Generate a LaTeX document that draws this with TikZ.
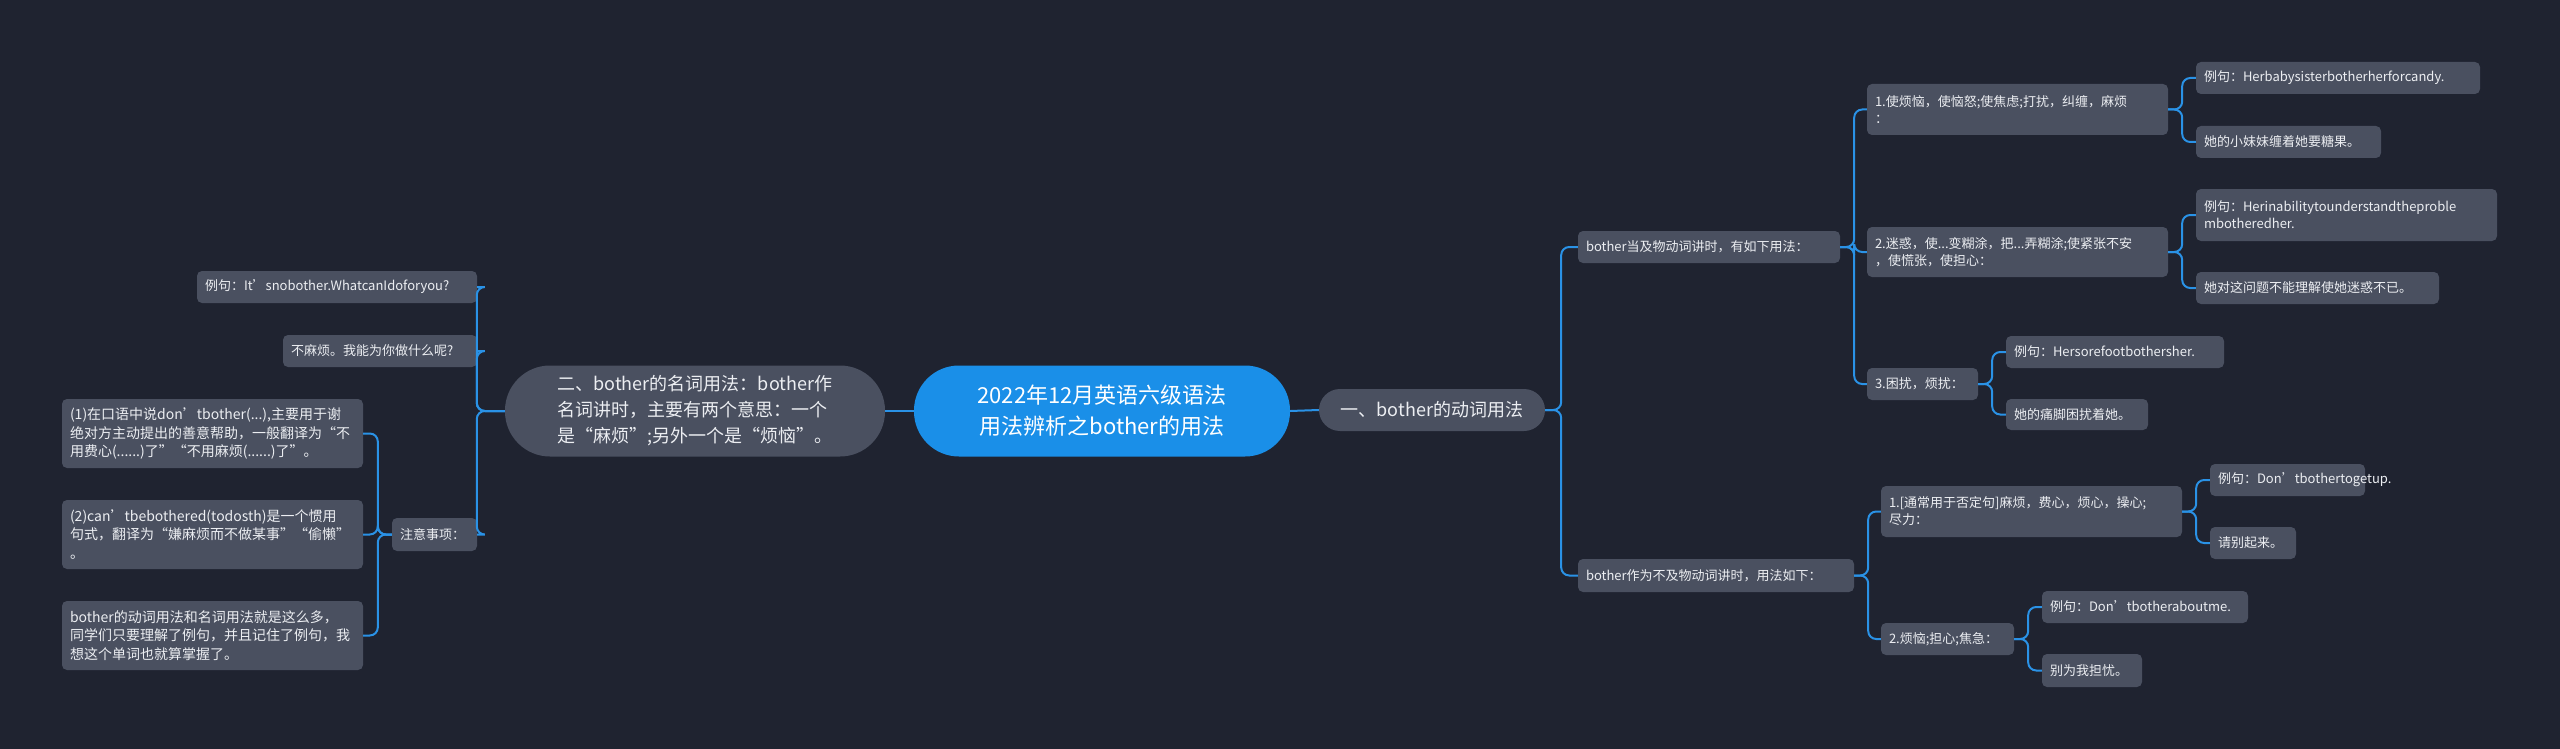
\documentclass[tikz,border=0pt]{standalone}
\usepackage{fontspec}
\setmainfont{Noto Sans CJK SC}
\definecolor{bg}{HTML}{1F2330}
\definecolor{bx}{HTML}{4A5060}
\definecolor{ln}{HTML}{2A92E6}
\definecolor{cb}{HTML}{1A8FE8}
\definecolor{tx}{HTML}{ECEEF2}
\tikzset{
  leaf/.style={fill=bx, rounded corners=5pt, text=tx, inner sep=0pt, align=left, font=\fontsize{13}{17}\selectfont},
  note/.style={leaf, font=\fontsize{14}{18.5}\selectfont},
  edge/.style={draw=ln, line width=2pt, rounded corners=8pt},
}
\newcommand{\bx}[7][leaf]{\node[#1, minimum width=#5pt, minimum height=#6pt, text width={#5pt-16pt}] (#2) at ({#3+#5/2},{#4+#6/2}) {#7};}
\begin{document}
\begin{tikzpicture}[x=1pt,y=-1pt]
\fill[bg] (0,0) rectangle (2560,749);
\useasboundingbox (0,0) rectangle (2560,749);
% main nodes
\node[fill=cb, rounded corners=45pt, minimum width=376pt, minimum height=91pt, text=white, align=center, font=\fontsize{22}{31}\selectfont] (c) at (1102,411) {2022年12月英语六级语法\\用法辨析之bother的用法};
\node[fill=bx, rounded corners=21pt, minimum width=226pt, minimum height=42pt, text=tx, font=\fontsize{18}{24}\selectfont] (r) at (1432,410) {一、bother的动词用法};
\node[fill=bx, rounded corners=45pt, minimum width=380pt, minimum height=91pt, text=tx, align=left, font=\fontsize{18}{26}\selectfont] (l) at (695,411) {二、bother的名词用法：bother作\\名词讲时，主要有两个意思：一个\\是“麻烦”;另外一个是“烦恼”。};
% right
\bx{ra}{1578}{231}{262}{32}{bother当及物动词讲时，有如下用法：}
\bx{rb}{1578}{559}{276}{33}{bother作为不及物动词讲时，用法如下：}
\bx{ra1}{1867}{84}{301}{51}{1.使烦恼，使恼怒;使焦虑;打扰，纠缠，麻烦\\：}
\bx{ra2}{1867}{227}{301}{50}{2.迷惑，使...变糊涂，把...弄糊涂;使紧张不安\\，使慌张，使担心：}
\bx{ra3}{1867}{368}{111}{32}{3.困扰，烦扰：}
\bx{ra1a}{2196}{62}{284}{32}{例句：Herbabysisterbotherherforcandy.}
\bx{ra1b}{2196}{126}{185}{32}{她的小妹妹缠着她要糖果。}
\bx{ra2a}{2196}{189}{301}{52}{例句：Herinabilitytounderstandtheproble\\mbotheredher.}
\bx{ra2b}{2196}{272}{243}{32}{她对这问题不能理解使她迷惑不已。}
\bx{ra3a}{2006}{336}{218}{32}{例句：Hersorefootbothersher.}
\bx{ra3b}{2006}{399}{142}{31}{她的痛脚困扰着她。}
\bx{rb1}{1881}{486}{301}{51}{1.[通常用于否定句]麻烦，费心，烦心，操心;\\尽力：}
\bx{rb2}{1881}{623}{133}{32}{2.烦恼;担心;焦急：}
\bx{rb1a}{2210}{464}{155}{32}{例句：Don'tbothertogetup.}
\bx{rb1b}{2210}{527}{86}{32}{请别起来。}
\bx{rb2a}{2042}{591}{206}{32}{例句：Don'tbotheraboutme.}
\bx{rb2b}{2042}{654}{100}{33}{别为我担忧。}
% left
\bx{la}{197}{271}{280}{32}{例句：It'snobother.WhatcanIdoforyou?}
\bx{lb}{283}{335}{194}{32}{不麻烦。我能为你做什么呢?}
\bx{lc}{392}{518}{85}{33}{注意事项：}
\bx[note]{n1}{62}{399}{301}{69}{(1)在口语中说don’tbother(...),主要用于谢\\绝对方主动提出的善意帮助，一般翻译为“不\\用费心(......)了”“不用麻烦(......)了”。}
\bx[note]{n2}{62}{500}{301}{69}{(2)can’tbebothered(todosth)是一个惯用\\句式，翻译为“嫌麻烦而不做某事”“偷懒”\\。}
\bx[note]{n3}{62}{601}{301}{69}{bother的动词用法和名词用法就是这么多，\\同学们只要理解了例句，并且记住了例句，我\\想这个单词也就算掌握了。}
% edges
\draw[edge] (c.east) -- (r.west);
\draw[edge] (c.west) -- (l.east);
\foreach \p/\k/\d in {r/ra/16, r/rb/16, ra/ra1/14, ra/ra2/14, ra/ra3/14, ra1/ra1a/14, ra1/ra1b/14, ra2/ra2a/14, ra2/ra2b/14, ra3/ra3a/14, ra3/ra3b/14, rb/rb1/14, rb/rb2/14, rb1/rb1a/14, rb1/rb1b/14, rb2/rb2a/14, rb2/rb2b/14}
  \draw[edge] (\p.east) -- ++(\d,0) |- (\k.west);
\foreach \p/\k/\d in {l/la/28, l/lb/28, l/lc/28, lc/n1/14, lc/n2/14, lc/n3/14}
  \draw[edge] (\p.west) -- ++(-\d,0) |- (\k.east);
\end{tikzpicture}
\end{document}
